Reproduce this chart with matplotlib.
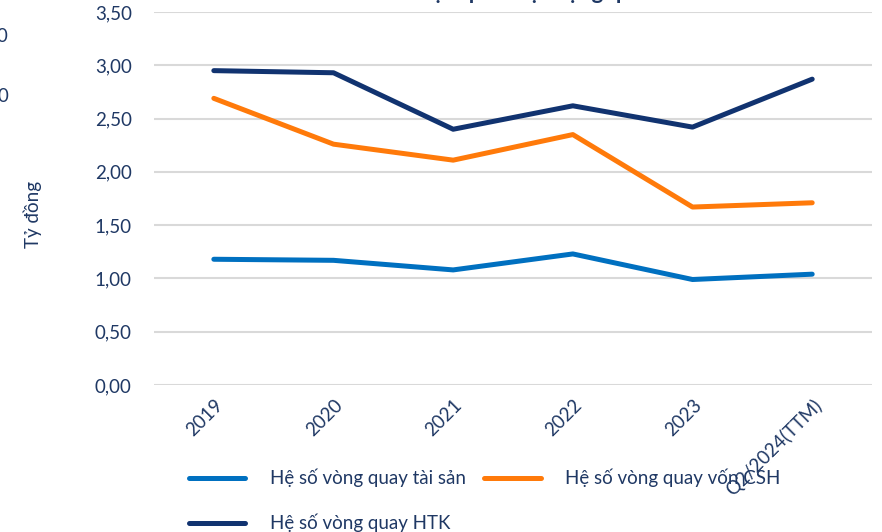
import matplotlib.pyplot as plt

plt.rcParams['font.family'] = ['Lato', 'DejaVu Sans']

categories = ['2019', '2020', '2021', '2022', '2023', 'Q2/2024(TTM)']
vq_tai_san = [1.18, 1.17, 1.08, 1.23, 0.99, 1.04]
vq_von_csh = [2.69, 2.26, 2.11, 2.35, 1.67, 1.71]
vq_htk = [2.95, 2.93, 2.40, 2.62, 2.42, 2.87]
yticks = [0.0, 0.5, 1.0, 1.5, 2.0, 2.5, 3.0, 3.5]

text_c = '#1F3864'

fig = plt.figure(figsize=(8.82, 5.32), dpi=100)
ax = fig.add_axes([0.1746, 0.2763, 0.8141, 0.7011])

x = range(len(categories))
l1, = ax.plot(x, vq_tai_san, color='#0070C0', lw=3.6, solid_capstyle='round', solid_joinstyle='round')
l2, = ax.plot(x, vq_von_csh, color='#FF7A0A', lw=3.6, solid_capstyle='round', solid_joinstyle='round')
l3, = ax.plot(x, vq_htk, color='#113370', lw=3.6, solid_capstyle='round', solid_joinstyle='round')

ax.set_xlim(-0.5, len(categories) - 0.5)
ax.set_ylim(0, 3.5)
ax.set_yticks(yticks)
ax.set_yticklabels([('%.2f' % v).replace('.', ',') for v in yticks])
ax.set_xticks(list(x))
ax.set_xticklabels(categories, rotation=45, ha='right', va='top', rotation_mode='anchor')
ax.tick_params(length=0, labelsize=13.5, colors=text_c, pad=16)
ax.tick_params(axis='x', pad=8)
ax.grid(axis='y', color='#D9D9D9', lw=1.5)
ax.set_axisbelow(True)
for s in ax.spines.values():
    s.set_visible(False)

fig.text(33 / 882, 1 - 214 / 532, 'Tỷ đồng', rotation=90, ha='center', va='center',
         fontsize=13.5, color=text_c)

# title cut off at the top of the picture
fig.text(570 / 882, 1.0 + 1 / 532, 'Hiệu quả hoạt động qua các năm', ha='center', va='baseline',
         fontsize=16, fontweight='bold', color=text_c)
# tick labels of a neighbouring chart, cut at the left edge
fig.text(9 / 882, 1 - 37 / 532, '4.000', ha='right', va='center', fontsize=13.5, color=text_c)
fig.text(9 / 882, 1 - 97 / 532, '3.000', ha='right', va='center', fontsize=13.5, color=text_c)

fig.legend([l1, l3, l2], ['Hệ số vòng quay tài sản', 'Hệ số vòng quay HTK', 'Hệ số vòng quay vốn CSH'],
           loc='upper left', bbox_to_anchor=(172 / 882, 1 - 452 / 532), ncol=2, frameon=False,
           fontsize=13.5, labelcolor=text_c, handlelength=3.0, handletextpad=1.3,
           columnspacing=1.0, labelspacing=1.4)

fig.savefig('out.png', dpi=100)
